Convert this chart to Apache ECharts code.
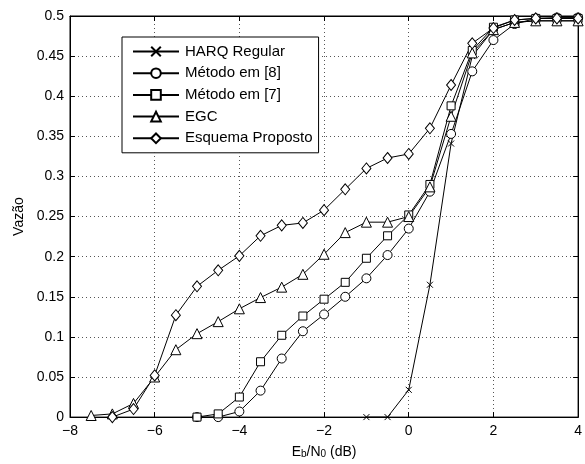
<!DOCTYPE html>
<html>
<head>
<meta charset="utf-8">
<script src="https://cdn.jsdelivr.net/npm/echarts@6/dist/echarts.min.js"></script>
<style>html,body{margin:0;padding:0;background:#fff}#c{width:585px;height:464px}</style>
</head>
<body>
<div id="c"></div>
<script>
const xTicks = [-8, -6, -4, -2, 0, 2, 4];
const yTicks = [0, 0.05, 0.1, 0.15, 0.2, 0.25, 0.3, 0.35, 0.4, 0.45, 0.5];

const harqX = [-1, -0.5, 0, 0.5, 1, 1.5, 2, 2.5, 3, 3.5, 4];
const harqY = [0, 0, 0.034, 0.165, 0.341, 0.45, 0.483, 0.492, 0.494, 0.494, 0.494];

const m8X = [-5, -4.5, -4, -3.5, -3, -2.5, -2, -1.5, -1, -0.5, 0, 0.5, 1, 1.5, 2, 2.5, 3, 3.5, 4];
const m8Y = [0, 0, 0.007, 0.033, 0.073, 0.107, 0.128, 0.150, 0.173, 0.202, 0.235, 0.281, 0.353, 0.431, 0.470, 0.490, 0.497, 0.498, 0.498];

const m7X = [-5, -4.5, -4, -3.5, -3, -2.5, -2, -1.5, -1, -0.5, 0, 0.5, 1, 1.5, 2, 2.5, 3, 3.5, 4];
const m7Y = [0, 0.004, 0.025, 0.069, 0.102, 0.126, 0.147, 0.168, 0.198, 0.226, 0.252, 0.290, 0.388, 0.457, 0.486, 0.495, 0.497, 0.497, 0.497];

const egcX = [-7.5, -7, -6.5, -6, -5.5, -5, -4.5, -4, -3.5, -3, -2.5, -2, -1.5, -1, -0.5, 0, 0.5, 1, 1.5, 2, 2.5, 3, 3.5, 4];
const egcY = [0.002, 0.004, 0.017, 0.050, 0.084, 0.104, 0.119, 0.135, 0.149, 0.162, 0.178, 0.203, 0.230, 0.243, 0.243, 0.250, 0.287, 0.375, 0.454, 0.483, 0.492, 0.494, 0.494, 0.494];

const propX = [-7, -6.5, -6, -5.5, -5, -4.5, -4, -3.5, -3, -2.5, -2, -1.5, -1, -0.5, 0, 0.5, 1, 1.5, 2, 2.5, 3, 3.5, 4];
const propY = [0, 0.010, 0.052, 0.127, 0.163, 0.183, 0.201, 0.226, 0.239, 0.242, 0.258, 0.284, 0.310, 0.323, 0.328, 0.360, 0.414, 0.466, 0.485, 0.495, 0.497, 0.497, 0.497];

const names = ['HARQ Regular', 'Método em [8]', 'Método em [7]', 'EGC', 'Esquema Proposto'];

const zip = (xs, ys) => xs.map((x, i) => [x, ys[i]]);
const FONT = 'Liberation Sans, Arial, Helvetica, sans-serif';

function mk(name, xs, ys, symbol, size) {
  return {
    name: name,
    type: 'line',
    data: zip(xs, ys),
    symbol: symbol,
    symbolSize: size,
    showAllSymbol: true,
    animation: false,
    lineStyle: { color: '#000', width: 1 },
    itemStyle: { color: '#fff', borderColor: '#000', borderWidth: 1 },
    emphasis: { disabled: true }
  };
}

const chart = echarts.init(document.getElementById('c'), null, { renderer: 'canvas' });
const fmtX = v => (v < 0 ? '\u2212' + Math.abs(v) : String(v));
const fmtY = v => String(+v.toFixed(2));
const gridLine = { show: true, lineStyle: { color: '#555', width: 1, type: [1, 3] } };

chart.setOption({
  animation: false,
  backgroundColor: '#fff',
  textStyle: { fontFamily: FONT },
  grid: { left: 70, right: 4, top: 16, bottom: 43, show: true, borderColor: '#000', borderWidth: 1, backgroundColor: 'transparent' },
  legend: {
    orient: 'vertical',
    left: 122,
    top: 37,
    width: 200,
    padding: [7, 6, 7, 10],
    itemWidth: 46,
    itemHeight: 12,
    itemGap: 6.7,
    borderColor: '#000',
    borderWidth: 1,
    borderRadius: 0,
    backgroundColor: '#fff',
    textStyle: { fontFamily: FONT, fontSize: 15, color: '#000', padding: [0, 0, 0, 1] },
    data: names
  },
  xAxis: [{
    type: 'value', min: xTicks[0], max: xTicks[xTicks.length - 1], interval: 2,
    position: 'bottom',
    axisLine: { show: true, onZero: false, lineStyle: { color: '#000' } },
    axisTick: { show: true, inside: true, length: 5, lineStyle: { color: '#000' } },
    axisLabel: { color: '#000', fontSize: 14, fontFamily: FONT, margin: 7, formatter: fmtX },
    splitLine: gridLine,
    name: '{a|E}{b|b}{a|/N}{b|0}{a| (dB)}',
    nameLocation: 'middle',
    nameGap: 25,
    nameTextStyle: {
      rich: {
        a: { fontSize: 14, fontFamily: FONT, color: '#000', lineHeight: 14, verticalAlign: 'top' },
        b: { fontSize: 10, fontFamily: FONT, color: '#000', lineHeight: 10, verticalAlign: 'bottom', padding: [6, 0, 0, 0] }
      }
    }
  }, {
    type: 'value', min: xTicks[0], max: xTicks[xTicks.length - 1], interval: 2,
    position: 'top',
    axisLine: { show: true, onZero: false, lineStyle: { color: '#000' } },
    axisTick: { show: true, inside: true, length: 5, lineStyle: { color: '#000' } },
    axisLabel: { show: false },
    splitLine: { show: false }
  }],
  yAxis: [{
    type: 'value', min: yTicks[0], max: yTicks[yTicks.length - 1], interval: 0.05,
    position: 'left',
    axisLine: { show: true, onZero: false, lineStyle: { color: '#000' } },
    axisTick: { show: true, inside: true, length: 5, lineStyle: { color: '#000' } },
    axisLabel: { color: '#000', fontSize: 14, fontFamily: FONT, margin: 6, formatter: fmtY },
    splitLine: gridLine,
    name: 'Vazão',
    nameLocation: 'middle',
    nameRotate: 90,
    nameGap: 37,
    nameTextStyle: { fontSize: 14, fontFamily: FONT, color: '#000' }
  }, {
    type: 'value', min: yTicks[0], max: yTicks[yTicks.length - 1], interval: 0.05,
    position: 'right',
    axisLine: { show: true, onZero: false, lineStyle: { color: '#000' } },
    axisTick: { show: true, inside: true, length: 5, lineStyle: { color: '#000' } },
    axisLabel: { show: false },
    splitLine: { show: false }
  }],
  series: [
    mk(names[0], harqX, harqY, 'path://M0,0L10,10M10,0L0,10', 6),
    mk(names[1], m8X, m8Y, 'circle', 9),
    mk(names[2], m7X, m7Y, 'rect', 8),
    mk(names[3], egcX, egcY, 'triangle', 10),
    mk(names[4], propX, propY, 'diamond', [9, 11])
  ]
});
</script>
</body>
</html>
